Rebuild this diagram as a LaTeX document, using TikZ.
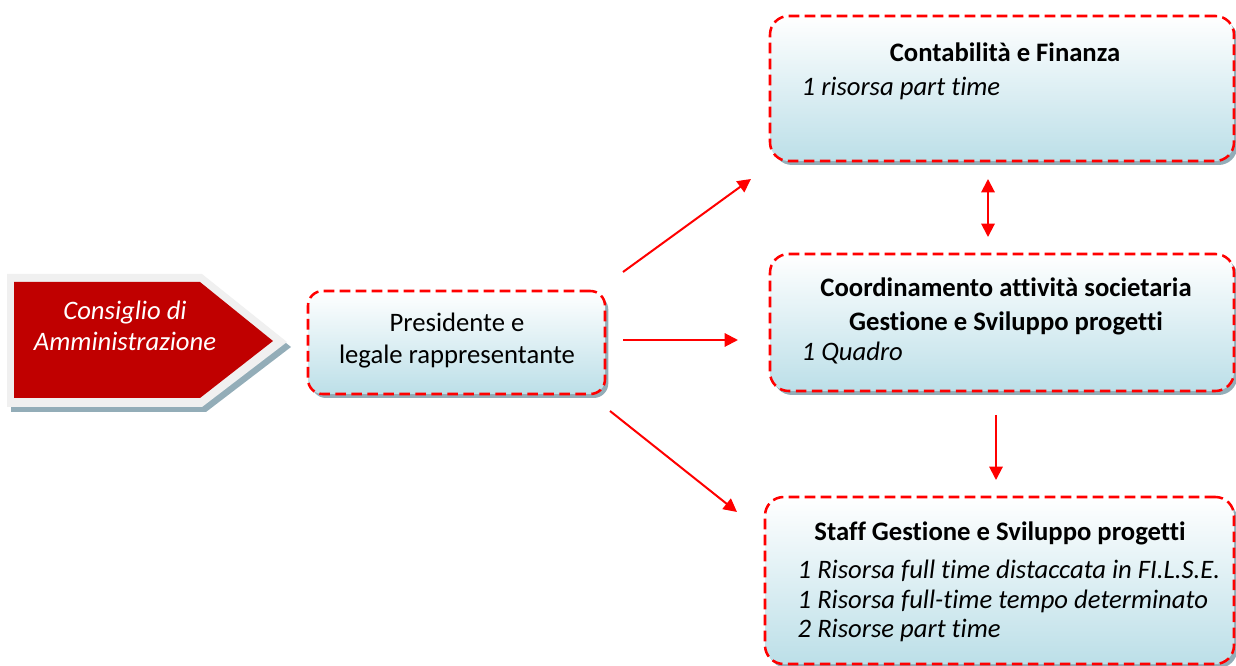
\documentclass[tikz,border=0pt]{standalone}
\usepackage{fontspec}
\setmainfont{Carlito}[Ligatures={NoCommon}]
\usetikzlibrary{arrows.meta,shadows}
\definecolor{cdared}{HTML}{C00000}
\definecolor{framegrey}{HTML}{F0F0F0}
\definecolor{shadowblue}{HTML}{93ADB8}
\definecolor{boxblue}{HTML}{BCDFE8}

\begin{document}
\begin{tikzpicture}[x=0.75pt,y=-0.75pt,
	box/.style={rounded corners=14pt, draw=red, line width=1.9pt, dash pattern=on 8pt off 4pt,
		top color=white, bottom color=boxblue, inner sep=0pt,
		general shadow={fill=shadowblue, shadow xshift=2.5pt, shadow yshift=-3pt}},
	head/.style={font=\fontsize{20}{25.5}\selectfont\bfseries, align=center},
	note/.style={font=\fontsize{20}{22}\selectfont\itshape, align=left, anchor=west},
	link/.style={-{Triangle[length=10pt,width=10pt]}, red, line width=1.5pt}]
\useasboundingbox (0,0) rectangle (1236,666);

%% Consiglio di Amministrazione
\fill [shadowblue] (11,279)--(206,279)--(291,347)--(206,412)--(11,412)--cycle;
\fill [framegrey] (7,274)--(202,274)--(287,342)--(202,407)--(7,407)--cycle;
\fill [cdared] (14,282)--(200,282)--(273,341)--(200,398)--(14,398)--cycle;
\node [white, align=center, font=\fontsize{20}{23.5}\selectfont\itshape] (cda) at (125,326) {Consiglio di\\Amministrazione};

%% Presidente
\node [box, rounded corners=11pt, minimum width=222.75pt, minimum height=77.25pt] (pres) at (456.5,342.5) {};
\node [align=center, font=\fontsize{20}{24}\selectfont] (presT) at (457,341) {Presidente e\\legale rappresentante};

%% Contabilita
\node [box, minimum width=348pt, minimum height=108.75pt] (conta) at (1002,88.5) {};
\node [head] (contaT) at (1005,52) {Contabilità e Finanza};
\node [note] (contaN) at (797,88) {1 risorsa part time};

%% Coordinamento
\node [box, minimum width=348pt, minimum height=102.75pt] (coord) at (1002,322.5) {};
\node [head] (coordT) at (1006,306) {Coordinamento attività societaria\\Gestione e Sviluppo progetti};
\node [note] (coordN) at (797,353) {1 Quadro};

%% Staff
\node [box, minimum width=351.75pt, minimum height=125.25pt] (staff) at (999.5,580.5) {};
\node [head] (staffT) at (1000,533) {Staff Gestione e Sviluppo progetti};
\node [note] (staffN) at (793,601) {1 Risorsa full time distaccata in FI.L.S.E.\\1 Risorsa full-time tempo determinato\\2 Risorse part time};

%% frecce
\coordinate (up0) at (623,272);
\coordinate (up1) at (751,179);
\coordinate (mid0) at (623,340);
\coordinate (mid1) at (738,340);
\coordinate (lo0) at (610,411);
\coordinate (lo1) at (737,512);
\coordinate (cc0) at (988,179);
\coordinate (cc1) at (988,237);
\coordinate (cs0) at (996,415);
\coordinate (cs1) at (996,480);

\draw [link] (up0)--(up1);
\draw [link] (mid0)--(mid1);
\draw [link] (lo0)--(lo1);
\draw [link, {Triangle[length=10pt,width=10pt]}-{Triangle[length=10pt,width=10pt]}] (cc0)--(cc1);
\draw [link] (cs0)--(cs1);

\end{tikzpicture}
\end{document}
